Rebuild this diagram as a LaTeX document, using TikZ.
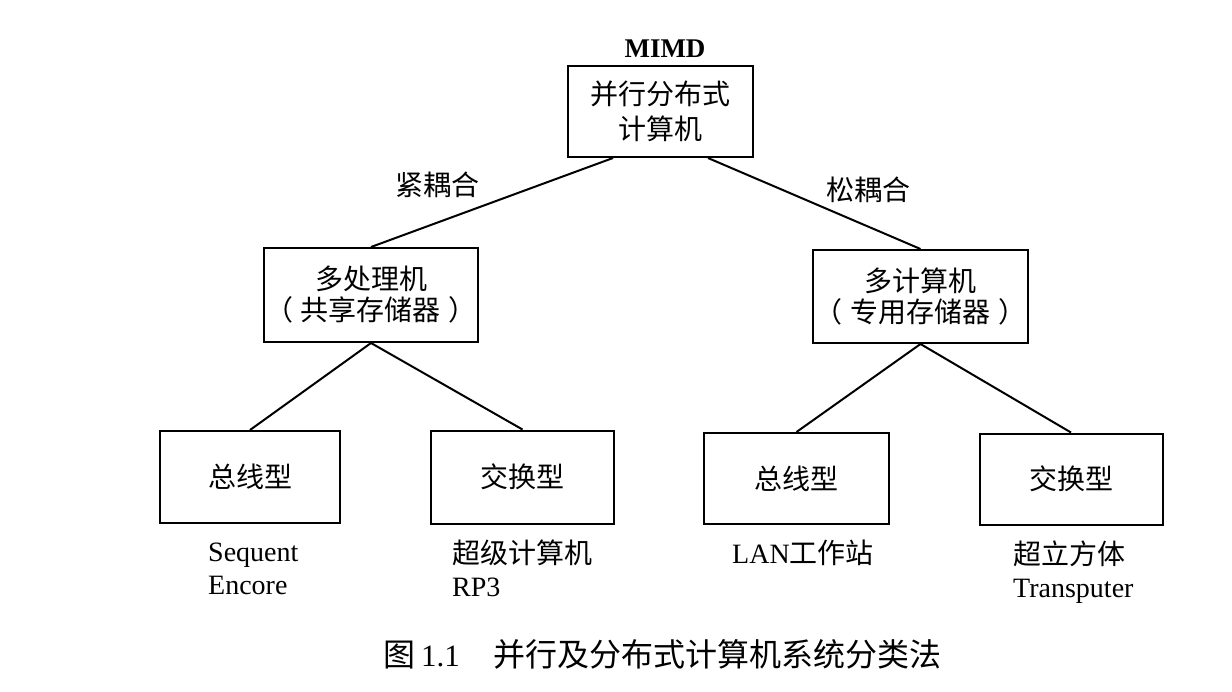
\documentclass[tikz,border=0pt]{standalone}
\usepackage{fontspec}
\setmainfont{Liberation Serif}
\newfontfamily\cjk{Noto Sans CJK SC}
\begin{document}
\begin{tikzpicture}[x=1pt,y=-1pt,
  box/.style={draw, line width=2pt, inner sep=0pt, align=center},
  conn/.style={line width=2pt},
  cjkl/.style={inner sep=0pt, font=\cjk\fontsize{28}{31}\selectfont},
  lab/.style={inner sep=0pt, anchor=base west, font=\fontsize{28}{33}\selectfont},
  cjklab/.style={inner sep=0pt, anchor=base west, font=\cjk\fontsize{28}{33}\selectfont}]
\useasboundingbox[fill=white] (0,0) rectangle (1232,691);

% top
\node[inner sep=0pt, font=\bfseries\fontsize{27}{30}\selectfont] (mimd) at (665,49) {MIMD};
\node[box, minimum width=185pt, minimum height=91pt, font=\cjk\fontsize{28}{35}\selectfont] (top) at (660.5,111.5) {并行分布式\\计算机};

% middle
\node[box, minimum width=214pt, minimum height=94pt, font=\cjk\fontsize{28}{31}\selectfont] (lmid) at (371,295) {多处理机\\（\hspace{8pt}共享存储器\hspace{8pt}）};
\node[box, minimum width=215pt, minimum height=93pt, font=\cjk\fontsize{28}{31}\selectfont] (rmid) at (920.5,296.5) {多计算机\\（\hspace{8pt}专用存储器\hspace{8pt}）};

% bottom
\node[box, minimum width=180pt, minimum height=92pt, font=\cjk\fontsize{28}{31}\selectfont] (b1) at (250,477) {总线型};
\node[box, minimum width=183pt, minimum height=93pt, font=\cjk\fontsize{28}{31}\selectfont] (b2) at (522.5,477) {交换型};
\node[box, minimum width=185pt, minimum height=91pt, font=\cjk\fontsize{28}{31}\selectfont] (b3) at (796.5,478.5) {总线型};
\node[box, minimum width=183pt, minimum height=91pt, font=\cjk\fontsize{28}{31}\selectfont] (b4) at (1071,479) {交换型};

% connectors
\coordinate (tl) at ([xshift=-47.5pt]top.south);
\coordinate (tr) at ([xshift=47.5pt]top.south);
\draw[conn] (tl) -- (lmid.north);
\draw[conn] (tr) -- (rmid.north);
\draw[conn] (lmid.south) -- (b1.north);
\draw[conn] (lmid.south) -- (b2.north);
\draw[conn] (rmid.south) -- (b3.north);
\draw[conn] (rmid.south) -- (b4.north);

% edge labels
\node[cjkl] (tight) at (437,185) {紧耦合};
\node[cjkl] (loose) at (868,190) {松耦合};

% labels below boxes
\node[lab] (l1a) at (208,561) {Sequent};
\node[lab] (l1b) at (208,594) {Encore};
\node[cjklab] (l2a) at (452,563) {超级计算机};
\node[lab] (l2b) at (452,596) {RP3};
\node[lab] (l3a) at (732,563) {LAN{\cjk 工作站}};
\node[cjklab] (l4a) at (1013,564) {超立方体};
\node[lab] (l4b) at (1013,597) {Transputer};

% caption
\node[inner sep=0pt, anchor=west, font=\fontsize{31}{32}\selectfont] (cap) at (383,654)
  {{\cjk\fontsize{32}{32}\selectfont 图}\hspace{6pt}1.1\hspace{34pt}{\cjk\fontsize{32}{32}\selectfont 并行及分布式计算机系统分类法}};
\end{tikzpicture}
\end{document}
